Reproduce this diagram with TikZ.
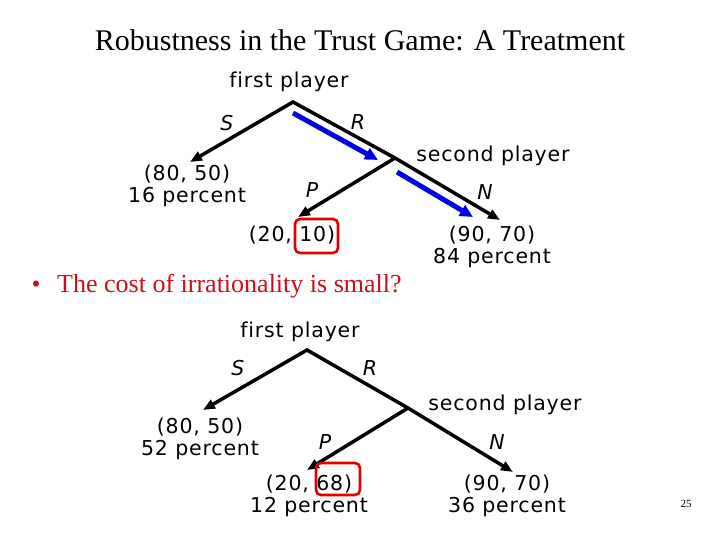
\documentclass[tikz,border=0pt]{standalone}
\usepackage{fontspec}
\setmainfont{Liberation Serif}
\newfontfamily\treefont[LetterSpace=4, Ligatures=NoCommon]{DejaVu Sans}
\usepackage{xcolor}
\usetikzlibrary{arrows.meta,positioning}
\definecolor{bulletred}{RGB}{200,16,24}

\begin{document}
\begin{tikzpicture}[
  x=1pt, y=-1pt,
  >={Triangle[length=12pt,width=9.5pt]},
  lbl/.style={font=\treefont\fontsize{20.5}{22}\selectfont, inner sep=0pt, align=center},
  act/.style={font=\treefont\itshape\fontsize{20.5}{22}\selectfont, inner sep=0pt},
  move/.style={line width=3.5pt, line join=miter},
  hint/.style={-{Triangle[length=13pt,width=12pt]}, line width=5pt, blue!90!black},
  redbox/.style={draw=red!88!black, line width=2.6pt, rounded corners=5pt, inner sep=0pt}
]
\useasboundingbox (0,0) rectangle (720,540);

% Title
\node[font=\fontsize{30}{34}\selectfont, anchor=base] (title) at (360,51) {Robustness in the Trust Game: A Treatment};

% Top tree
\coordinate (top1) at (293,102);
\coordinate (sec1) at (395,158);
\coordinate (s1) at (190,162);
\coordinate (p1) at (298,217);
\coordinate (n1) at (500,220);
\node[lbl] (first1) at (289,82) {first player};
\node[lbl] (second1) at (493,156) {second player};
\node[act] (S1) at (227,123) {S};
\node[act] (R1) at (358,122) {R};
\node[act] (P1) at (312,190) {P};
\node[act] (N1) at (485,192) {N};
\node[lbl] (leafS1) at (187,186) {(80, 50)\\16 percent};
\node[lbl] (leafP1) at (292,235) {(20, 10)};
\node[lbl] (leafN1) at (492,247) {(90, 70)\\84 percent};
\draw[move, <->] (s1) -- (top1) -- (sec1) -- (n1);
\draw[move, ->] (sec1) -- (p1);
\node[redbox, minimum width=43pt, minimum height=34pt] (box1) at (316.5,236) {};

% Blue arrows
\coordinate (b1a) at (293,113);
\coordinate (b1b) at (378,160);
\coordinate (b2a) at (397,172);
\coordinate (b2b) at (473,217);
\draw[hint] (b1a) -- (b1b);
\draw[hint] (b2a) -- (b2b);

% Bullet
\node[text=bulletred, font=\fontsize{25.5}{30}\selectfont, anchor=center] (dot) at (36,287) {\textbullet};
\node[text=bulletred, font=\fontsize{26}{30}\selectfont, anchor=base west, inner sep=0pt] (question) at (57,292) {The cost of irrationality is small?};

% Bottom tree
\coordinate (top2) at (307,350);
\coordinate (sec2) at (408,408);
\coordinate (s2) at (203,410);
\coordinate (p2) at (307,470);
\coordinate (n2) at (513,472);
\node[lbl] (first2) at (300,332) {first player};
\node[lbl] (second2) at (505,405) {second player};
\node[act] (S2) at (238,368) {S};
\node[act] (R2) at (370,368) {R};
\node[act] (P2) at (325,442) {P};
\node[act] (N2) at (497,442) {N};
\node[lbl] (leafS2) at (200,439) {(80, 50)\\52 percent};
\node[lbl] (leafP2) at (309,496) {(20, 68)\\12 percent};
\node[lbl] (leafN2) at (507,496) {(90, 70)\\36 percent};
\draw[move, <->] (s2) -- (top2) -- (sec2) -- (n2);
\draw[move, ->] (sec2) -- (p2);
\node[redbox, minimum width=44pt, minimum height=32pt] (box2) at (338,479) {};

% Page number
\node[font=\fontsize{11}{13}\selectfont] (page) at (686,504) {25};
\end{tikzpicture}
\end{document}
